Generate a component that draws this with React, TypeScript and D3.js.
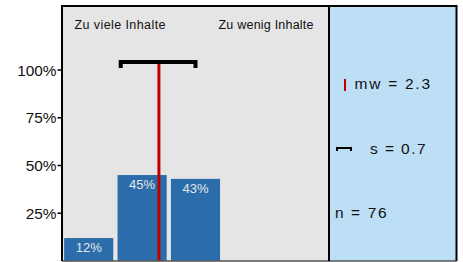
import * as d3 from "d3";

// data
const categories = ["1", "2", "3", "4", "5"];
const shares = [0.12, 0.45, 0.43, 0, 0];
const yTicks = [0.25, 0.5, 0.75, 1];
const meanValue = 2.3;
const sdValue = 0.7;
const nValue = 76;
const poleLabels = ["Zu viele Inhalte", "Zu wenig Inhalte"];

const W = 463;
const H = 262;
const FONT = "'Liberation Sans', Arial, sans-serif";

export default function App() {
    const left = 62;
    const split = 329;
    const right = 456.5;
    const top = 6;
    const bottom = 261;

    const x = d3.scaleBand<string>()
        .domain(categories)
        .range([left, split])
        .paddingInner(0.08)
        .paddingOuter(0.04);

    const y = d3.scaleLinear().domain([0, 1]).range([bottom, 70]);

    // 1..5 answer scale, mapped onto the band centres
    const xv = d3.scaleLinear()
        .domain([1, 5])
        .range([x(categories[0])! + x.bandwidth() / 2, x(categories[4])! + x.bandwidth() / 2]);

    const fmt = d3.format(".0%");
    const meanX = xv(meanValue) + 0.8;
    const sdL = xv(meanValue - sdValue);
    const sdR = xv(meanValue + sdValue);
    const sdY = 62;

    return (
        <svg width={W} height={H} style={{ position: "absolute", left: 0, top: 0 }} fontFamily={FONT}>
            <rect x={0} y={0} width={W} height={H} fill="#fff" />
            <rect x={left} y={top} width={split - left} height={bottom - top} fill="#e5e5e5" />
            <rect x={split} y={top} width={right - split} height={bottom - top} fill="#bddff6" />

            {categories.map((c, i) =>
                shares[i] > 0 ? (
                    <g key={c}>
                        <rect x={x(c)} y={y(shares[i])} width={x.bandwidth()} height={y(0) - y(shares[i])} fill="#2b6dab" />
                        <text x={x(c)! + x.bandwidth() / 2} y={y(shares[i]) + 14} textAnchor="middle" fontSize={13} fill="#e6e6e6">
                            {fmt(shares[i])}
                        </text>
                    </g>
                ) : null
            )}

            <line x1={meanX} x2={meanX} y1={sdY + 2} y2={bottom} stroke="#c00000" strokeWidth={3} />
            <path d={`M${sdL},${sdY + 6}V${sdY}H${sdR}V${sdY + 6}`} fill="none" stroke="#000" strokeWidth={4} />

            <text x={74.5} y={29} fontSize={12.5} fill="#111" textLength={91} lengthAdjust="spacing">{poleLabels[0]}</text>
            <text x={218.5} y={29} fontSize={12.5} fill="#111" textLength={95} lengthAdjust="spacing">{poleLabels[1]}</text>

            {yTicks.map(t => (
                <g key={t}>
                    <line x1={57.5} x2={left} y1={y(t)} y2={y(t)} stroke="#000" strokeWidth={1.5} />
                    <text x={56.5} y={y(t) + 5.5} fontSize={15.4} textAnchor="end" fill="#111">{fmt(t)}</text>
                </g>
            ))}

            <line x1={left} x2={right} y1={bottom} y2={bottom} stroke="#555" strokeWidth={1.5} />
            <line x1={left} x2={left} y1={top} y2={bottom} stroke="#000" strokeWidth={2} />
            <line x1={left - 1} x2={right + 1} y1={top} y2={top} stroke="#000" strokeWidth={2} />
            <line x1={split} x2={split} y1={top} y2={bottom} stroke="#000" strokeWidth={2} />
            <line x1={right} x2={right} y1={top} y2={bottom} stroke="#000" strokeWidth={2} />

            <line x1={345} x2={345} y1={79} y2={91} stroke="#c00000" strokeWidth={2} />
            <text x={354.5} y={88.5} fontSize={15.5} fill="#111" textLength={75.5} lengthAdjust="spacing">mw = {meanValue}</text>
            <path d="M337,151V148H351V151" fill="none" stroke="#000" strokeWidth={2} />
            <text x={370} y={153.5} fontSize={15.5} fill="#111" textLength={55.5} lengthAdjust="spacing">s = {sdValue}</text>
            <text x={335} y={217.5} fontSize={15.5} fill="#111" textLength={51.5} lengthAdjust="spacing">n = {nValue}</text>
        </svg>
    );
}
